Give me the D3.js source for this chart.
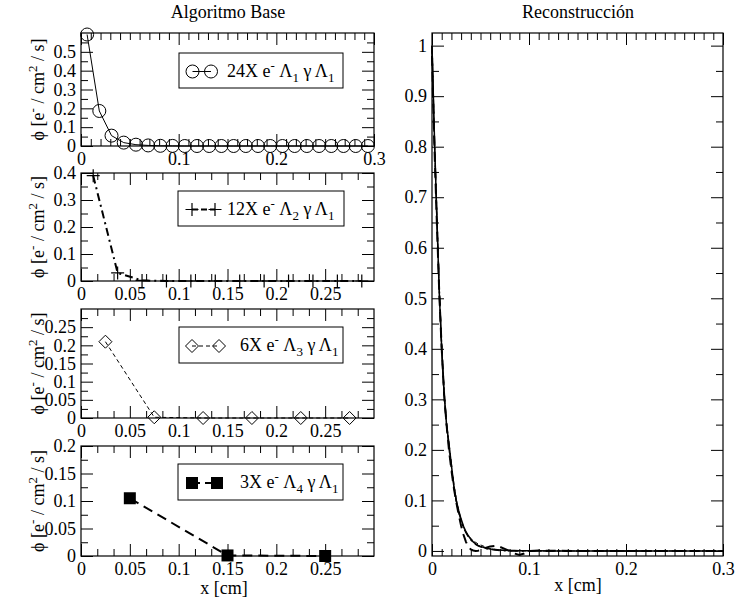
<!DOCTYPE html>
<html><head><meta charset="utf-8">
<script src="https://cdn.jsdelivr.net/npm/d3@7"></script>
<style>body{margin:0;background:#fff}svg{display:block}</style>
</head><body><svg id="c" width="737" height="602"></svg>
<script>
// ---------------- DATA ----------------
const x24 = [0.00625,0.01875,0.03125,0.04375,0.05625,0.06875,0.08125,0.09375,0.10625,0.11875,0.13125,0.14375,0.15625,0.16875,0.18125,0.19375,0.20625,0.21875,0.23125,0.24375,0.25625,0.26875,0.28125,0.29375];
const y24 = [0.592,0.186,0.055,0.018,0.007,0.003,0.001,0.0005,0,0,0,0,0,0,0,0,0,0,0,0,0,0,0,0];
const x12 = [0.0125,0.0375,0.0625,0.0875,0.1125,0.1375,0.1625,0.1875,0.2125,0.2375,0.2625,0.2875];
const y12 = [0.39,0.03,0.002,0,0,0,0,0,0,0,0,0];
const x6 = [0.025,0.075,0.125,0.175,0.225,0.275];
const y6 = [0.21,0.002,0,0,0,0];
const x3 = [0.05,0.15,0.25];
const y3 = [0.105,0.001,0];

const reconX  = [0,0.0025,0.005,0.0075,0.01,0.0125,0.015,0.0175,0.02,0.0225,0.025,0.0275,0.03,0.0325,0.035,0.0375,0.04,0.0425,0.045,0.0475,0.05,0.055,0.06,0.065,0.07,0.075,0.08,0.085,0.09,0.095,0.1,0.11,0.12,0.15,0.2,0.25,0.3];
const recon24 = [1.0,0.82,0.66,0.51,0.40,0.31,0.25,0.212,0.17,0.13,0.10,0.08,0.063,0.049,0.038,0.03,0.023,0.018,0.014,0.011,0.009,0.006,0.004,0.003,0.002,0.0015,0.001,0.0008,0.0006,0.0004,0.0003,0.0002,0.0001,0,0,0,0];
const recon12 = [1.0,0.81,0.66,0.52,0.40,0.31,0.25,0.21,0.17,0.13,0.10,0.078,0.06,0.046,0.036,0.028,0.022,0.017,0.013,0.01,0.008,0.005,0.003,0.002,0.001,0.0005,0,0,0,0,0,0,0,0,0,0,0];
const recon6  = [0.99,0.81,0.66,0.52,0.41,0.32,0.25,0.2,0.16,0.125,0.097,0.075,0.058,0.046,0.037,0.03,0.025,0.02,0.017,0.014,0.012,0.008,0.005,0.003,0.002,0.001,0.0005,0,0,0,0,0,0,0,0,0,0];
const recon3  = [0.98,0.80,0.65,0.51,0.40,0.31,0.25,0.2,0.16,0.125,0.097,0.072,0.05,0.032,0.018,0.008,0.003,0.001,0.0,0.0005,0.002,0.006,0.009,0.01,0.008,0.004,0.0,-0.005,-0.008,-0.005,0.0,0.001,0.0005,0,0,0,0];

const xTicksFull = [0,0.1,0.2,0.3];
const xTicksHalf = [0,0.05,0.1,0.15,0.2,0.25];
const yTicks24 = [0,0.1,0.2,0.3,0.4,0.5];
const yTicks12 = [0,0.1,0.2,0.3,0.4];
const yTicks6 = [0,0.05,0.1,0.15,0.2,0.25];
const yTicks3 = [0,0.05,0.1,0.15,0.2];
const yTicksRecon = [0,0.1,0.2,0.3,0.4,0.5,0.6,0.7,0.8,0.9,1];

const legend24 = [["24X e",0],["-",1],[" \u039B",0],["1",-1],[" \u03B3 \u039B",0],["1",-1]];
const legend12 = [["12X e",0],["-",1],[" \u039B",0],["2",-1],[" \u03B3 \u039B",0],["1",-1]];
const legend6  = [["6X e",0],["-",1],[" \u039B",0],["3",-1],[" \u03B3 \u039B",0],["1",-1]];
const legend3  = [["3X e",0],["-",1],[" \u039B",0],["4",-1],[" \u03B3 \u039B",0],["1",-1]];
const yLabelParts = [["\u03D5 [e",0],["-",1],[" / cm",0],["2",1],[" / s]",0]];

// ---------------- RENDER ----------------
const SERIF = "'Liberation Serif','Times New Roman',serif";
const FS = 18, SFS = 13, MAJ = 12, MIN = 7;
const svg = d3.select("#c");
svg.append("rect").attr("width",737).attr("height",602).attr("fill","#fff");

function rich(sel, parts) {
  let cur = 0;
  parts.forEach(([t, s]) => {
    const want = s === 1 ? -7 : s === -1 ? 5 : 0;
    sel.append("tspan").attr("dy", want - cur)
      .attr("font-size", s === 0 ? FS : SFS).text(t);
    cur = want;
  });
}

const fmt = d => String(+d.toFixed(4));
const near = (arr, v) => arr.some(m => Math.abs(m - v) < 1e-9);
function minors(dom, step, majors) {
  const out = [];
  for (let i = Math.ceil(dom[0]/step - 1e-6); i * step <= dom[1] + 1e-9; i++) {
    const v = +(i * step).toFixed(10);
    if (v > dom[0] + 1e-9 && v < dom[1] - 1e-9 && !near(majors, v)) out.push(v);
  }
  return out;
}
function styleAxis(a) {
  a.select(".domain").remove();
  a.selectAll("line").attr("stroke", "#000").attr("stroke-width", 1);
  a.selectAll("text").attr("font-family", SERIF).attr("font-size", FS).attr("fill", "#000");
}

function panel(o) {
  const x = d3.scaleLinear().domain(o.xd).range([o.l, o.r]);
  const y = d3.scaleLinear().domain(o.yd).range([o.b, o.t]);
  const g = svg.append("g");
  const xm = minors(o.xd, o.xmStep, o.xt), ym = minors(o.yd, o.ymStep, o.yt);
  const xtAll = o.xt.filter(v => v <= o.xd[1] + 1e-9);
  g.append("g").attr("transform", `translate(0,${o.b})`)
    .call(d3.axisBottom(x).tickValues(xtAll).tickSize(-MAJ).tickPadding(6).tickFormat(fmt)).call(styleAxis);
  g.append("g").attr("transform", `translate(0,${o.b})`)
    .call(d3.axisBottom(x).tickValues(xm).tickSize(-MIN).tickFormat("")).call(styleAxis);
  g.append("g").attr("transform", `translate(0,${o.t})`)
    .call(d3.axisTop(x).tickValues(xtAll).tickSize(-MAJ).tickFormat("")).call(styleAxis);
  g.append("g").attr("transform", `translate(0,${o.t})`)
    .call(d3.axisTop(x).tickValues(xm).tickSize(-MIN).tickFormat("")).call(styleAxis);
  g.append("g").attr("transform", `translate(${o.l},0)`)
    .call(d3.axisLeft(y).tickValues(o.yt).tickSize(-MAJ).tickPadding(5).tickFormat(fmt)).call(styleAxis);
  g.append("g").attr("transform", `translate(${o.l},0)`)
    .call(d3.axisLeft(y).tickValues(ym).tickSize(-MIN).tickFormat("")).call(styleAxis);
  g.append("g").attr("transform", `translate(${o.r},0)`)
    .call(d3.axisRight(y).tickValues(o.yt).tickSize(-MAJ).tickFormat("")).call(styleAxis);
  g.append("g").attr("transform", `translate(${o.r},0)`)
    .call(d3.axisRight(y).tickValues(ym).tickSize(-MIN).tickFormat("")).call(styleAxis);
  g.append("rect").attr("x", o.l).attr("y", o.t).attr("width", o.r - o.l).attr("height", o.b - o.t)
    .attr("fill", "none").attr("stroke", "#000").attr("stroke-width", 1.2);
  return {g, x, y};
}

const markers = {
  circle: (g, cx, cy) => g.append("circle").attr("cx", cx).attr("cy", cy).attr("r", 6.5)
      .attr("fill", "none").attr("stroke", "#000").attr("stroke-width", 1),
  plus: (g, cx, cy) => g.append("path").attr("d", `M${cx-6.5},${cy}H${cx+6.5}M${cx},${cy-6.5}V${cy+6.5}`)
      .attr("stroke", "#000").attr("stroke-width", 1.2),
  diamond: (g, cx, cy) => g.append("path").attr("d", `M${cx},${cy-6.5}L${cx+6.5},${cy}L${cx},${cy+6.5}L${cx-6.5},${cy}Z`)
      .attr("fill", "none").attr("stroke", "#000").attr("stroke-width", 1),
  square: (g, cx, cy) => g.append("rect").attr("x", cx - 6).attr("y", cy - 6).attr("width", 12).attr("height", 12)
      .attr("fill", "#000")
};

const lineStyles = {
  solid: {w: 1, dash: null},
  dashdot: {w: 2, dash: "8,4,2,4"},
  thindash: {w: 1, dash: "4,3"},
  longdash: {w: 2, dash: "10,6"}
};

const leftPanels = [
  {t: 33, b: 146, xd: [0, 0.3], yd: [0, 0.6], xt: xTicksFull, yt: yTicks24, xmStep: 0.01, ymStep: 0.05,
   xs: x24, ys: y24, mk: "circle", ls: "solid", leg: legend24, box: [179, 53, 164, 35], tx: 227, m1: 192.5, m2: 211},
  {t: 173, b: 281, xd: [0, 0.3], yd: [0, 0.4], xt: xTicksHalf, yt: yTicks12, xmStep: 0.05/3, ymStep: 0.05,
   xs: x12, ys: y12, mk: "plus", ls: "dashdot", leg: legend12, box: [178, 191, 166, 35], tx: 227, m1: 192, m2: 215},
  {t: 309, b: 418, xd: [0, 0.3], yd: [0, 0.3], xt: xTicksHalf, yt: yTicks6, xmStep: 0.05/3, ymStep: 0.025,
   xs: x6, ys: y6, mk: "diamond", ls: "thindash", leg: legend6, box: [179, 327, 164, 36], tx: 240, m1: 192, m2: 219},
  {t: 446, b: 556, xd: [0, 0.3], yd: [0, 0.2], xt: xTicksHalf, yt: yTicks3, xmStep: 0.05/3, ymStep: 0.025,
   xs: x3, ys: y3, mk: "square", ls: "longdash", leg: legend3, box: [178, 464, 165, 36], tx: 240, m1: 192, m2: 217}
];

leftPanels.forEach(p => {
  const o = Object.assign({l: 81, r: 374}, p);
  const {g, x, y} = panel(o);
  const st = lineStyles[p.ls];
  const data = d3.zip(p.xs, p.ys);
  g.append("path").datum(data)
    .attr("d", d3.line().x(d => x(d[0])).y(d => y(d[1])))
    .attr("fill", "none").attr("stroke", "#000").attr("stroke-width", st.w)
    .attr("stroke-dasharray", st.dash);
  data.forEach(d => markers[p.mk](g, x(d[0]), y(d[1])));
  const [bx, by, bw, bh] = p.box;
  const cy = by + bh / 2 + 1;
  g.append("rect").attr("x", bx).attr("y", by).attr("width", bw).attr("height", bh)
    .attr("fill", "#fff").attr("stroke", "#000").attr("stroke-width", 1);
  g.append("line").attr("x1", p.m1).attr("x2", p.m2).attr("y1", cy).attr("y2", cy)
    .attr("stroke", "#000").attr("stroke-width", st.w).attr("stroke-dasharray", p.ls === "dashdot" ? "6,3" : p.ls === "thindash" ? "4,3" : p.ls === "longdash" ? "8,5" : null);
  markers[p.mk](g, p.m1, cy);
  markers[p.mk](g, p.m2, cy);
  const t = g.append("text").attr("x", p.tx).attr("y", by + bh / 2 + 6)
    .attr("font-family", SERIF).attr("font-size", FS).attr("fill", "#000");
  rich(t, p.leg);
  const yl = svg.append("text").attr("transform", `translate(44,${(p.t + p.b) / 2}) rotate(-90)`)
    .attr("text-anchor", "middle").attr("font-family", SERIF).attr("font-size", FS).attr("fill", "#000");
  rich(yl, yLabelParts);
});

{
  const o = {l: 432, r: 723, t: 33, b: 556, xd: [0, 0.3], yd: [-0.01, 1.025], xt: xTicksFull, yt: yTicksRecon, xmStep: 0.01, ymStep: 0.05};
  const {g, x, y} = panel(o);
  const line = d3.line().x(d => x(d[0])).y(d => y(d[1]));
  const series = [[recon24, "solid", 1.5], [recon12, "dashdot", 1.5], [recon6, "thindash", 1], [recon3, "longdash", 2]];
  series.forEach(([ys, ls, w]) => {
    g.append("path").datum(d3.zip(reconX, ys)).attr("d", line)
      .attr("fill", "none").attr("stroke", "#000").attr("stroke-width", w)
      .attr("stroke-dasharray", lineStyles[ls].dash);
  });
}

const txt = (x, y, s) => svg.append("text").attr("x", x).attr("y", y).attr("text-anchor", "middle")
  .attr("font-family", SERIF).attr("font-size", FS).attr("fill", "#000").text(s);
txt(228, 18, "Algoritmo Base");
txt(578, 18, "Reconstrucción");
txt(224, 594, "x [cm]");
txt(578, 591, "x [cm]");
</script></body></html>
